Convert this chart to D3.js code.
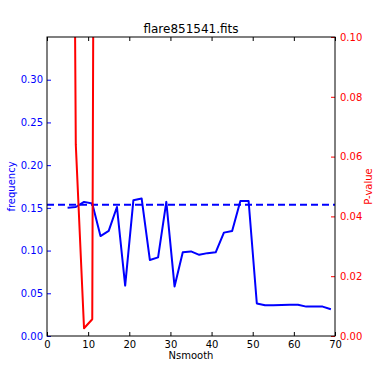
<!DOCTYPE html>
<html>
<head>
    <meta charset="utf-8">
    <script src="https://d3js.org/d3.v7.min.js" charset="utf-8"></script>
    <title>flare851541.fits</title>
    <style>
        html, body { margin: 0; padding: 0; background: #fff; }
        svg { display: block; font-family: "DejaVu Sans", sans-serif; }
    </style>
</head>
<body>
<div id="chart"></div>
<script>
    // Nsmooth values and the two series
    var nsmooth = [5, 7, 9, 11, 13, 15, 17, 19, 21, 23, 25, 27, 29, 31, 33, 35,
        37, 39, 41, 43, 45, 47, 49, 51, 53, 55, 57, 59, 61, 63, 65, 67, 69];
    var frequency = [0.150, 0.151, 0.157, 0.155, 0.117, 0.123, 0.151, 0.059,
        0.159, 0.161, 0.089, 0.092, 0.157, 0.058, 0.098, 0.099, 0.095, 0.097,
        0.098, 0.121, 0.123, 0.158, 0.158, 0.038, 0.036, 0.036, 0.0363, 0.0365,
        0.0365, 0.0344, 0.0344, 0.0344, 0.0313];
    // P-values only visible for the first few points (rest is above the axis)
    var pNsmooth = [5, 7, 9, 11, 13];
    var pValue = [0.49, 0.064, 0.0026, 0.0056, 0.84];
    var threshold = 0.1535;

    var xTicks = [0, 10, 20, 30, 40, 50, 60, 70];
    var yLeftTicks = [0, 0.05, 0.10, 0.15, 0.20, 0.25, 0.30];
    var yRightTicks = [0, 0.02, 0.04, 0.06, 0.08, 0.10];

    var width = 374, height = 374;
    var margin = {top: 37, right: 39, bottom: 38, left: 47};
    var w = width - margin.left - margin.right,
        h = height - margin.top - margin.bottom;

    var svg = d3.select("#chart").append("svg")
        .attr("width", width).attr("height", height);

    var g = svg.append("g")
        .attr("transform", "translate(" + margin.left + "," + margin.top + ")");

    var x = d3.scaleLinear().domain([0, 70]).range([0, w]);
    var yL = d3.scaleLinear().domain([0, 0.35]).range([h, 0]);
    var yR = d3.scaleLinear().domain([0, 0.10]).range([h, 0]);

    svg.append("defs").append("clipPath").attr("id", "plotclip")
        .append("rect").attr("width", w).attr("height", h);

    var plot = g.append("g").attr("clip-path", "url(#plotclip)");

    // threshold line
    plot.append("line")
        .attr("x1", 0).attr("x2", w)
        .attr("y1", yL(threshold)).attr("y2", yL(threshold))
        .attr("stroke", "#0000ff")
        .attr("stroke-width", 2)
        .attr("stroke-dasharray", "7,4");

    var freqLine = d3.line()
        .x(function (d, i) { return x(nsmooth[i]); })
        .y(function (d) { return yL(d); });

    plot.append("path")
        .datum(frequency)
        .attr("d", freqLine)
        .attr("fill", "none")
        .attr("stroke", "#0000ff")
        .attr("stroke-width", 2)
        .attr("stroke-linejoin", "round");

    var pLine = d3.line()
        .x(function (d, i) { return x(pNsmooth[i]); })
        .y(function (d) { return yR(d); });

    plot.append("path")
        .datum(pValue)
        .attr("d", pLine)
        .attr("fill", "none")
        .attr("stroke", "#ff0000")
        .attr("stroke-width", 2)
        .attr("stroke-linejoin", "round");

    // axes, ticks pointing inward
    function style(sel, col) {
        sel.select(".domain").remove();
        sel.selectAll(".tick line").attr("stroke", col);
        sel.selectAll(".tick text").attr("fill", col).style("font-size", "10px")
            .style("font-family", "DejaVu Sans, sans-serif");
    }

    g.append("g")
        .attr("transform", "translate(0," + h + ")")
        .call(d3.axisBottom(x).tickValues(xTicks).tickSizeInner(-4).tickSizeOuter(0)
            .tickPadding(5).tickFormat(d3.format("d")))
        .call(style, "#000");

    g.append("g")
        .call(d3.axisTop(x).tickValues(xTicks).tickSizeInner(-4).tickSizeOuter(0)
            .tickFormat(""))
        .call(style, "#000");

    g.append("g")
        .call(d3.axisLeft(yL).tickValues(yLeftTicks).tickSizeInner(-4).tickSizeOuter(0)
            .tickPadding(4).tickFormat(d3.format(".2f")))
        .call(style, "#0000ff");

    g.append("g")
        .attr("transform", "translate(" + w + ",0)")
        .call(d3.axisRight(yR).tickValues(yRightTicks).tickSizeInner(-4).tickSizeOuter(0)
            .tickPadding(5).tickFormat(d3.format(".2f")))
        .call(style, "#ff0000");

    // frame
    g.append("rect")
        .attr("width", w).attr("height", h)
        .attr("fill", "none")
        .attr("stroke", "#000")
        .attr("stroke-width", 1);

    // labels
    svg.append("text")
        .attr("x", margin.left + w / 2).attr("y", 33)
        .attr("text-anchor", "middle")
        .style("font-size", "12px")
        .text("flare851541.fits");

    svg.append("text")
        .attr("x", margin.left + w / 2).attr("y", 359)
        .attr("text-anchor", "middle")
        .style("font-size", "10px")
        .text("Nsmooth");

    svg.append("text")
        .attr("transform", "translate(15," + (margin.top + h / 2) + ")rotate(-90)")
        .attr("text-anchor", "middle")
        .attr("fill", "#0000ff")
        .style("font-size", "10px")
        .text("frequency");

    svg.append("text")
        .attr("transform", "translate(372," + (margin.top + h / 2) + ")rotate(-90)")
        .attr("text-anchor", "middle")
        .attr("fill", "#ff0000")
        .style("font-size", "10px")
        .text("P-value");
</script>
</body>
</html>
